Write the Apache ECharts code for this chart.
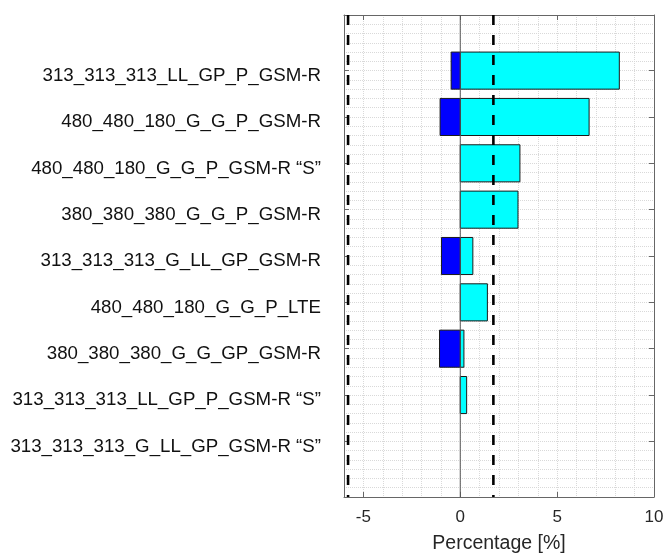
<!DOCTYPE html>
<html>
<head>
<meta charset="utf-8">
<script src="https://cdn.jsdelivr.net/npm/echarts@6/dist/echarts.min.js"></script>
<style>
html,body{margin:0;padding:0;background:#fff;}
#c{width:667px;height:557px;}
</style>
</head>
<body>
<div id="c"></div>
<script>
const categories = [
  '313_313_313_LL_GP_P_GSM-R',
  '480_480_180_G_G_P_GSM-R',
  '480_480_180_G_G_P_GSM-R \u201cS\u201d',
  '380_380_380_G_G_P_GSM-R',
  '313_313_313_G_LL_GP_GSM-R',
  '480_480_180_G_G_P_LTE',
  '380_380_380_G_G_GP_GSM-R',
  '313_313_313_LL_GP_P_GSM-R \u201cS\u201d',
  '313_313_313_G_LL_GP_GSM-R \u201cS\u201d'
];
const positiveValues = [8.21, 6.65, 3.08, 2.98, 0.65, 1.40, 0.19, 0.33, 0];
const negativeValues = [-0.47, -1.04, 0, 0, -0.97, 0, -1.07, 0, 0];
const thresholds = [-5.79, 1.71];
const xTicks = [-5, 0, 5, 10];
const categoryPositions = [1, 2, 3, 4, 5, 6, 7, 8, 9];

const FONT = "'Liberation Sans', Arial, Helvetica, sans-serif";
const X_MIN = -6, X_MAX = 10, Y_MIN = -0.2, Y_MAX = 10.2;
const BAR_HALF = 0.4;
const LABEL_SHIFT = 0.11; // labels sit slightly below their tick in the reference
const frameColor = '#666666';
const textColor = '#262626';

function barData(values) {
  const out = [];
  values.forEach((v, i) => {
    if (v !== 0) out.push([0, v, categoryPositions[i]]);
  });
  return out;
}

function renderBar(color) {
  return function (params, api) {
    const a = api.value(0), b = api.value(1), y = api.value(2);
    const p0 = api.coord([Math.min(a, b), y - BAR_HALF]);
    const p1 = api.coord([Math.max(a, b), y + BAR_HALF]);
    return {
      type: 'rect',
      shape: {
        x: Math.min(p0[0], p1[0]),
        y: Math.min(p0[1], p1[1]),
        width: Math.abs(p1[0] - p0[0]),
        height: Math.abs(p1[1] - p0[1])
      },
      style: { fill: color, stroke: '#1a1a1a', lineWidth: 1 }
    };
  };
}

const gridRect = { left: 344, right: 13, top: 15, bottom: 60, outerBoundsMode: 'none', containLabel: false };

const chart = echarts.init(document.getElementById('c'), null, { renderer: 'canvas' });
chart.setOption({
  animation: false,
  backgroundColor: '#ffffff',
  grid: [Object.assign({}, gridRect), Object.assign({}, gridRect)],
  xAxis: [
    {
      type: 'value', gridIndex: 0, position: 'bottom', min: X_MIN, max: X_MAX,
      axisLine: { show: true, onZero: false, lineStyle: { color: frameColor, width: 1 } },
      axisTick: { show: true, inside: true, length: 5, customValues: xTicks, lineStyle: { color: frameColor } },
      axisLabel: { show: true, customValues: xTicks, margin: 12, color: textColor, fontSize: 17, fontFamily: FONT },
      splitLine: { show: false },
      name: 'Percentage [%]', nameLocation: 'middle', nameGap: 37,
      nameTextStyle: { color: textColor, fontSize: 19.5, fontFamily: FONT }
    },
    {
      type: 'value', gridIndex: 0, position: 'top', min: X_MIN, max: X_MAX,
      axisLine: { show: true, onZero: false, lineStyle: { color: frameColor, width: 1 } },
      axisTick: { show: true, inside: true, length: 5, customValues: xTicks, lineStyle: { color: frameColor } },
      axisLabel: { show: false },
      splitLine: { show: false }
    },
    {
      type: 'value', gridIndex: 1, position: 'bottom', min: X_MIN, max: X_MAX, interval: 1,
      axisLine: { show: false }, axisTick: { show: false }, axisLabel: { show: false },
      splitLine: { show: true, lineStyle: { color: '#d9d9d9', type: 'dotted', width: 1 } }
    }
  ],
  yAxis: [
    {
      type: 'value', gridIndex: 0, position: 'left', min: Y_MIN, max: Y_MAX, inverse: true,
      axisLine: { show: true, onZero: false, lineStyle: { color: frameColor, width: 1 } },
      axisTick: { show: true, inside: true, length: 5, customValues: categoryPositions, lineStyle: { color: frameColor } },
      axisLabel: {
        show: true, customValues: categoryPositions.map(p => p + LABEL_SHIFT), margin: 23,
        color: '#111111', fontSize: 18.7, fontFamily: FONT,
        formatter: function (v) { return categories[Math.round(v) - 1] || ''; }
      },
      splitLine: { show: false }
    },
    {
      type: 'value', gridIndex: 0, position: 'right', min: Y_MIN, max: Y_MAX, inverse: true,
      axisLine: { show: true, onZero: false, lineStyle: { color: frameColor, width: 1 } },
      axisTick: { show: true, inside: true, length: 5, customValues: categoryPositions, lineStyle: { color: frameColor } },
      axisLabel: { show: false },
      splitLine: { show: false }
    },
    {
      type: 'value', gridIndex: 1, min: Y_MIN, max: Y_MAX, interval: 0.2, inverse: true,
      axisLine: { show: false }, axisTick: { show: false }, axisLabel: { show: false },
      splitLine: { show: true, lineStyle: { color: '#d9d9d9', type: 'dotted', width: 1 } }
    }
  ],
  series: [
    {
      type: 'custom', xAxisIndex: 0, yAxisIndex: 0, z: 3,
      renderItem: renderBar('#00ffff'),
      encode: { x: [0, 1], y: 2 },
      data: barData(positiveValues)
    },
    {
      type: 'custom', xAxisIndex: 0, yAxisIndex: 0, z: 3,
      renderItem: renderBar('#0000ff'),
      encode: { x: [0, 1], y: 2 },
      data: barData(negativeValues)
    },
    {
      type: 'line', xAxisIndex: 0, yAxisIndex: 0, z: 4, symbol: 'none', silent: true,
      lineStyle: { color: '#555555', width: 1 },
      data: [[0, Y_MIN], [0, Y_MAX]]
    }
  ].concat(thresholds.map(t => ({
    type: 'line', xAxisIndex: 0, yAxisIndex: 0, z: 5, symbol: 'none', silent: true,
    lineStyle: { color: '#000000', width: 2.6, type: [10, 10] },
    data: [[t, Y_MIN], [t, Y_MAX]]
  })))
});
</script>
</body>
</html>
